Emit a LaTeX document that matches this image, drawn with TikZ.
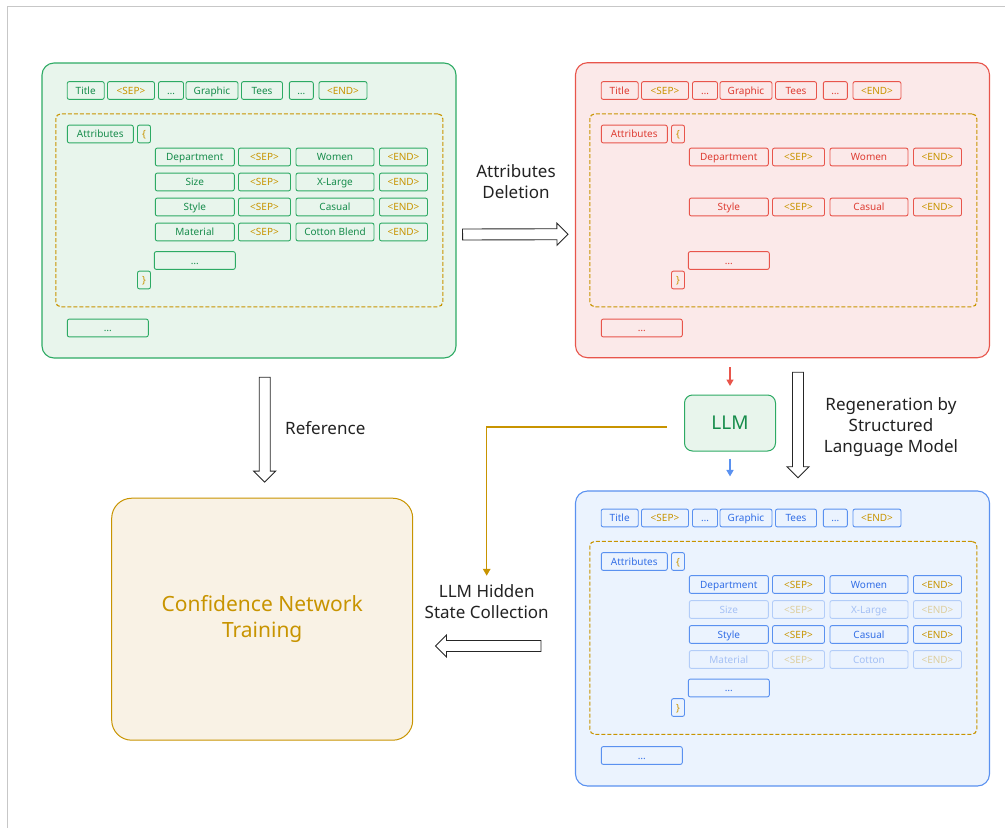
\documentclass[tikz,border=0pt]{standalone}
\usepackage{fontspec}
\setmainfont{Noto Sans}
\usepackage{tikz}
\usetikzlibrary{positioning, calc, arrows.meta}

\definecolor{gline}{RGB}{45,170,100}
\definecolor{gfill}{RGB}{232,245,236}
\definecolor{gtext}{RGB}{22,140,75}
\definecolor{rline}{RGB}{232,85,75}
\definecolor{rfill}{RGB}{251,233,233}
\definecolor{rtext}{RGB}{222,60,50}
\definecolor{bline}{RGB}{90,145,240}
\definecolor{bfill}{RGB}{235,243,254}
\definecolor{btext}{RGB}{50,110,230}
\definecolor{gold}{RGB}{200,148,0}
\definecolor{cfill}{RGB}{249,242,229}
\definecolor{ink}{RGB}{34,34,34}

\newcommand\tokfont{\fontsize{10}{12}\selectfont}
\newcommand\lblfont{\fontsize{17}{21}\selectfont}
\newcommand\bigfont{\fontsize{21}{26.5}\selectfont}

\tikzset{
    panel/.style={rectangle, rounded corners=12pt, line width=1.1pt, minimum width=414pt, minimum height=295pt},
    attrbox/.style={rectangle, rounded corners=5pt, draw=gold, dash pattern=on 4pt off 2pt, line width=1.1pt, minimum width=387pt, minimum height=193pt},
    tok/.style={rectangle, rounded corners=2pt, draw=pb, line width=0.9pt, minimum height=17.8pt, inner sep=0pt, text height=8pt, text depth=1pt, font=\tokfont},
    llmbox/.style={rectangle, rounded corners=8pt, draw=gline, fill=gfill, text=gtext, line width=1pt, minimum width=91pt, minimum height=56pt, font=\fontsize{19}{22}\selectfont},
    confbox/.style={rectangle, rounded corners=20pt, draw=gold, fill=cfill, text=gold, line width=1pt, minimum width=301pt, minimum height=242pt, align=center, font=\bigfont},
    lbl/.style={font=\lblfont, text=ink, align=center, inner sep=0pt},
    thinarrow/.style={-{Triangle[length=6.5pt, width=7pt]}, line width=1.5pt},
    goldarrow/.style={draw=gold, -{Triangle[length=7pt, width=7.5pt]}, line width=1.5pt, shorten >=9pt},
    hollow/.style={draw=black!85, fill=white, line width=0.9pt, line join=miter,
        to path={
            -- ($(\tikztostart)!5.5pt!90:(\tikztotarget)$)
            -- ($($(\tikztotarget)!11pt!(\tikztostart)$)!5.5pt!90:(\tikztotarget)$)
            -- ($($(\tikztotarget)!11pt!(\tikztostart)$)!11pt!90:(\tikztotarget)$)
            -- (\tikztotarget)
            -- ($($(\tikztotarget)!11pt!(\tikztostart)$)!11pt!-90:(\tikztotarget)$)
            -- ($($(\tikztotarget)!11pt!(\tikztostart)$)!5.5pt!-90:(\tikztotarget)$)
            -- ($(\tikztostart)!5.5pt!-90:(\tikztotarget)$) -- cycle}}
}

\begin{document}
\begin{tikzpicture}[x=1pt, y=-1pt]
\useasboundingbox (0,0) rectangle (1005,828);

% Frame
\draw[black!22, line width=1pt] (7,828) -- (7,6) -- (1005,6);

% Stage panels
\node (src) [panel, draw=gline, fill=gfill] at (249,210.5) {};
\node (del) [panel, draw=rline, fill=rfill] at (782.5,210.2) {};
\node (regen) [panel, draw=bline, fill=bfill] at (782.5,638.5) {};

% Source listing
\begin{scope}[name prefix=s-]
\colorlet{pb}{gline}\colorlet{pt}{gtext}
\node (attrbox) [attrbox] at (249.3,210.3) {};
\foreach \x/\w/\t/\c [count=\i] in {85.7/37/Title/pt, 131/47/<SEP>/gold, 171/25/\ldots/pt, 212/52/Graphic/pt, 262/41/Tees/pt, 301.3/24/\ldots/pt, 343/48/<END>/gold}
    \node (top\i) [tok, text=\c, minimum width=\w pt] at (\x,90.5) {\t};
\node (attr) [tok, text=pt, minimum width=66pt] at (100.3,134) {Attributes};
\node (lbrace) [tok, text=gold, minimum width=13pt] at (144,134) {\{};
\foreach \y/\k/\v [count=\i] in {157/Department/Women, 182/Size/X-Large, 207/Style/Casual, 232/Material/Cotton Blend} {
    \node (key\i) [tok, text=pt, minimum width=79pt] at (194.8,\y) {\k};
    \node (sep\i) [tok, text=gold, minimum width=52pt] at (264.5,\y) {<SEP>};
    \node (val\i) [tok, text=pt, minimum width=78pt] at (335,\y) {\v};
    \node (end\i) [tok, text=gold, minimum width=48pt] at (403.5,\y) {<END>};
}
\node (more) [tok, text=pt, minimum width=81pt] at (194.8,260.5) {\ldots};
\node (rbrace) [tok, text=gold, minimum width=13pt] at (144,280) {\}};
\node (tail) [tok, text=pt, minimum width=81pt] at (107.8,328) {\ldots};
\end{scope}

% Listing with deleted attributes
\begin{scope}[name prefix=d-, shift={(534,0)}]
\colorlet{pb}{rline}\colorlet{pt}{rtext}
\node (attrbox) [attrbox] at (249.3,210.3) {};
\foreach \x/\w/\t/\c [count=\i] in {85.7/37/Title/pt, 131/47/<SEP>/gold, 171/25/\ldots/pt, 212/52/Graphic/pt, 262/41/Tees/pt, 301.3/24/\ldots/pt, 343/48/<END>/gold}
    \node (top\i) [tok, text=\c, minimum width=\w pt] at (\x,90.5) {\t};
\node (attr) [tok, text=pt, minimum width=66pt] at (100.3,134) {Attributes};
\node (lbrace) [tok, text=gold, minimum width=13pt] at (144,134) {\{};
\foreach \y/\k/\v [count=\i] in {157/Department/Women, 207/Style/Casual} {
    \node (key\i) [tok, text=pt, minimum width=79pt] at (194.8,\y) {\k};
    \node (sep\i) [tok, text=gold, minimum width=52pt] at (264.5,\y) {<SEP>};
    \node (val\i) [tok, text=pt, minimum width=78pt] at (335,\y) {\v};
    \node (end\i) [tok, text=gold, minimum width=48pt] at (403.5,\y) {<END>};
}
\node (more) [tok, text=pt, minimum width=81pt] at (194.8,260.5) {\ldots};
\node (rbrace) [tok, text=gold, minimum width=13pt] at (144,280) {\}};
\node (tail) [tok, text=pt, minimum width=81pt] at (107.8,328) {\ldots};
\end{scope}

% Regenerated listing
\begin{scope}[name prefix=r-, shift={(534,427.5)}]
\colorlet{pb}{bline}\colorlet{pt}{btext}
\node (attrbox) [attrbox] at (249.3,210.3) {};
\foreach \x/\w/\t/\c [count=\i] in {85.7/37/Title/pt, 131/47/<SEP>/gold, 171/25/\ldots/pt, 212/52/Graphic/pt, 262/41/Tees/pt, 301.3/24/\ldots/pt, 343/48/<END>/gold}
    \node (top\i) [tok, text=\c, minimum width=\w pt] at (\x,90.5) {\t};
\node (attr) [tok, text=pt, minimum width=66pt] at (100.3,134) {Attributes};
\node (lbrace) [tok, text=gold, minimum width=13pt] at (144,134) {\{};
\foreach \y/\k/\v/\o [count=\i] in {157/Department/Women/1, 182/Size/X-Large/0.38, 207/Style/Casual/1, 232/Material/Cotton/0.38} {
    \node (key\i) [tok, text=pt, minimum width=79pt, opacity=\o] at (194.8,\y) {\k};
    \node (sep\i) [tok, text=gold, minimum width=52pt, opacity=\o] at (264.5,\y) {<SEP>};
    \node (val\i) [tok, text=pt, minimum width=78pt, opacity=\o] at (335,\y) {\v};
    \node (end\i) [tok, text=gold, minimum width=48pt, opacity=\o] at (403.5,\y) {<END>};
}
\node (more) [tok, text=pt, minimum width=81pt] at (194.8,260.5) {\ldots};
\node (rbrace) [tok, text=gold, minimum width=13pt] at (144,280) {\}};
\node (tail) [tok, text=pt, minimum width=81pt] at (107.8,328) {\ldots};
\end{scope}

% LLM and confidence network
\node (llm) [llmbox] at (730,423) {LLM};
\node (conf) [confbox] at (262.2,619.2) {Confidence Network\\Training};

% Labels
\node (dellbl) [lbl] at (516,182) {Attributes\\Deletion};
\node (reflbl) [lbl, anchor=west] at (285,428) {Reference};
\node (genlbl) [lbl] at (891,427.4) {Regeneration by\\Structured\\Language Model};
\node (hidlbl) [lbl] at (486.7,602) {LLM Hidden\\State Collection};

% Arrow ends
\coordinate (del-a) at ([xshift=6pt,yshift=-24pt]src.east);
\coordinate (del-b) at ([xshift=-7pt,yshift=-24pt]del.west);
\coordinate (ref-a) at ([xshift=15.7pt,yshift=-18.7pt]src.south);
\coordinate (ref-b) at ([xshift=2.5pt,yshift=15.6pt]conf.north);
\coordinate (gen-a) at ([xshift=15.5pt,yshift=-14pt]del.south);
\coordinate (gen-b) at ([xshift=15.5pt,yshift=12.7pt]regen.north);
\coordinate (hid-a) at ([xshift=-34pt,yshift=-7.5pt]regen.west);
\coordinate (hid-b) at ($(hid-a -| conf.east)+(22.3,0)$);
\coordinate (llm-in) at ($(llm.north |- del.south)+(0,9)$);
\coordinate (llm-out) at ($(llm.south |- regen.north)+(0,-14)$);

% Arrows
\draw[hollow] (del-a) to (del-b);
\draw[hollow] (ref-a) to (ref-b);
\draw[hollow] (gen-a) to (gen-b);
\draw[hollow] (hid-a) to (hid-b);
\draw[thinarrow, rline] (llm-in) -- ([yshift=8.5pt]llm.north);
\draw[thinarrow, bline] ([yshift=-7pt]llm.south) -- (llm-out);
\draw[goldarrow] ([xshift=-17pt,yshift=-4pt]llm.west) -| (hidlbl.north);

\end{tikzpicture}
\end{document}
